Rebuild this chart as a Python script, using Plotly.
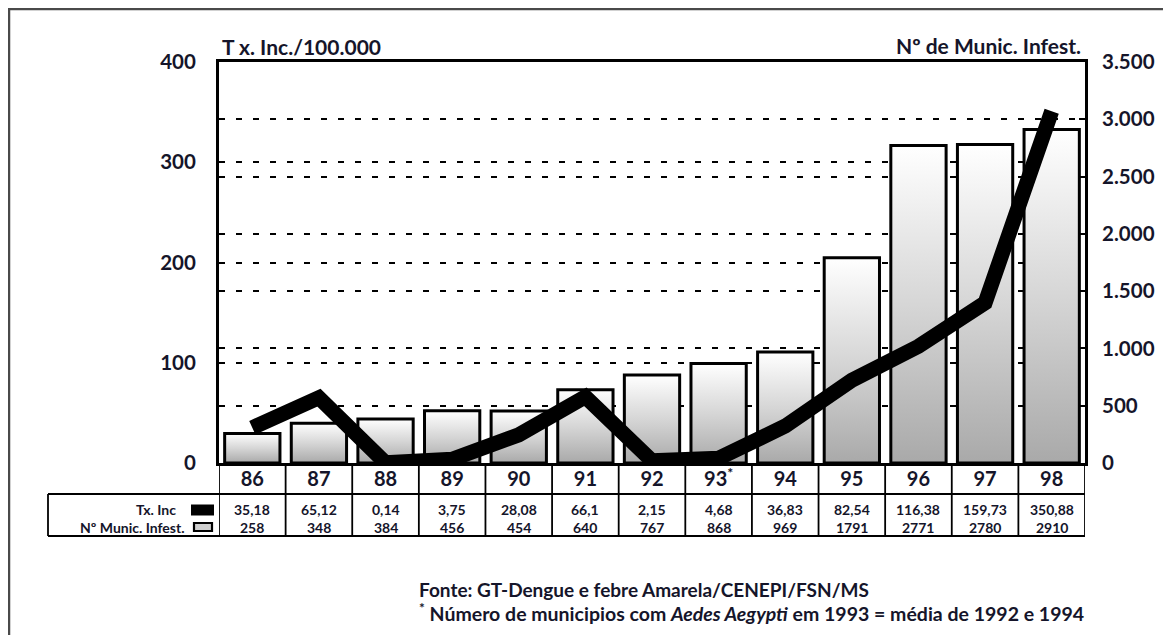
import plotly.graph_objects as go

# ---------------- data ----------------
years = ["86", "87", "88", "89", "90", "91", "92", "93", "94", "95", "96", "97", "98"]
year_labels = ["86", "87", "88", "89", "90", "91", "92", "93<sup>*</sup>", "94", "95", "96", "97", "98"]
tx_inc = [35.18, 65.12, 0.14, 3.75, 28.08, 66.1, 2.15, 4.68, 36.83, 82.54, 116.38, 159.73, 350.88]
munic = [258, 348, 384, 456, 454, 640, 767, 868, 969, 1791, 2771, 2780, 2910]
left_ticks = [0, 100, 200, 300, 400]
right_ticks = [0, 500, 1000, 1500, 2000, 2500, 3000, 3500]

left_title = "T x. Inc./100.000"
right_title = "Nº de Munic. Infest."
legend_tx = "Tx. Inc"
legend_munic = "Nº Munic. Infest."
source_line = "Fonte: GT-Dengue e febre Amarela/CENEPI/FSN/MS"
note_line = "<sup>*</sup> Número de municipios com <i>Aedes Aegypti</i> em 1993 = média de 1992 e 1994"

# ---------------- geometry (page pixels -> paper) ----------------
OFF = 8                      # default body margin of the html page
W_FIG, H_FIG = 1163, 627
L, R, T, B = 211, 86, 54, 172
PW, PH = W_FIG - L - R, H_FIG - T - B


def px(X):
    return (X - OFF - L) / PW


def py(Y):
    return (T + PH - (Y - OFF)) / PH


TXT = "#15152a"
FONT = "Lato"
idx = list(range(len(years)))
BW = 0.83

fig = go.Figure()

# gradient fills of the bars (one trace per bar so each has its own gradient)
for i, v in enumerate(munic):
    fig.add_trace(go.Scatter(
        x=[i - BW / 2, i + BW / 2, i + BW / 2, i - BW / 2, i - BW / 2],
        y=[0, 0, v, v, 0],
        mode="lines", line=dict(width=0, color="rgba(0,0,0,0)"),
        fill="toself",
        fillgradient=dict(type="vertical",
                          colorscale=[[0, "#a9a9a9"], [0.5, "#d6d6d6"], [1, "#ffffff"]]),
        hoverinfo="skip", showlegend=False, yaxis="y"))

# bar outlines
fig.add_trace(go.Bar(
    x=idx, y=munic, width=BW, yaxis="y2",
    marker=dict(color="rgba(0,0,0,0)", line=dict(color="black", width=3)),
    name=legend_munic, showlegend=False))

# incidence line
fig.add_trace(go.Scatter(
    x=idx, y=tx_inc, yaxis="y3", mode="lines",
    line=dict(color="black", width=15),
    name=legend_tx, showlegend=False))

grid = dict(showgrid=True, gridcolor="black", griddash="6px,11px", gridwidth=1.5)

fig.update_layout(
    width=W_FIG, height=H_FIG,
    margin=dict(l=L, r=R, t=T, b=B),
    paper_bgcolor="white", plot_bgcolor="white",
    separators=",.",
    font=dict(family=FONT, color=TXT, size=16),
    showlegend=False,
    xaxis=dict(range=[-0.5, len(years) - 0.5], tickvals=idx, ticktext=year_labels,
               showline=True, linewidth=3, linecolor="black", mirror=True,
               showgrid=False, zeroline=False, ticks="",
               tickfont=dict(size=20, family=FONT, color=TXT, weight="bold"),
               ticklabelstandoff=-4),
    yaxis=dict(range=[0, 3500], side="right", tickvals=right_ticks, tickformat=",d",
               showline=True, linewidth=3, linecolor="black",
               ticks="inside", ticklen=6, tickwidth=1.5, tickcolor="black",
               zeroline=False, ticklabelstandoff=10,
               tickfont=dict(size=20.5, family=FONT, color=TXT, weight="bold"), **grid),
    yaxis2=dict(range=[0, 3500], overlaying="y", visible=False),
    yaxis3=dict(range=[0, 400], overlaying="y", side="left", tickvals=left_ticks,
                showline=True, linewidth=3, linecolor="black", zeroline=False,
                ticks="", ticklabelstandoff=16,
                tickfont=dict(size=20.5, family=FONT, color=TXT, weight="bold"), **grid),
)

shapes = []
line_k = dict(color="black", width=1.8)
Y_ROW = py(494)
Y_BOT = py(536)
X_LEFT = px(48)
# vertical dividers of the category table
for i in range(len(years) + 1):
    shapes.append(dict(type="line", xref="x", yref="paper", x0=i - 0.5, x1=i - 0.5,
                       y0=0, y1=Y_BOT, line=line_k))
shapes.append(dict(type="line", xref="paper", yref="paper", x0=X_LEFT, x1=1,
                   y0=Y_ROW, y1=Y_ROW, line=line_k))
shapes.append(dict(type="line", xref="paper", yref="paper", x0=X_LEFT, x1=1,
                   y0=Y_BOT, y1=Y_BOT, line=line_k))
shapes.append(dict(type="line", xref="paper", yref="paper", x0=X_LEFT, x1=X_LEFT,
                   y0=Y_ROW, y1=Y_BOT, line=line_k))
# legend symbols
shapes.append(dict(type="line", xref="paper", yref="paper", x0=px(191), x1=px(214),
                   y0=py(510), y1=py(510), line=dict(color="black", width=11)))
shapes.append(dict(type="rect", xref="paper", yref="paper", x0=px(194), x1=px(212),
                   y0=py(523), y1=py(531), fillcolor="#cfcfcf",
                   line=dict(color="black", width=2.2)))
# outer frame
shapes.append(dict(type="rect", xref="paper", yref="paper", x0=px(9), x1=px(1190),
                   y0=py(9), y1=py(660), line=dict(color="#4a4a4a", width=2.5),
                   fillcolor="rgba(0,0,0,0)", layer="below"))

annotations = []
for i, v in enumerate(tx_inc):
    annotations.append(dict(x=i, y=py(509), xref="x", yref="paper", showarrow=False,
                            text="<b>" + f"{v:g}".replace(".", ",") + "</b>",
                            font=dict(size=14, family=FONT, color=TXT),
                            xanchor="center", yanchor="middle"))
for i, v in enumerate(munic):
    annotations.append(dict(x=i, y=py(527), xref="x", yref="paper", showarrow=False,
                            text="<b>" + str(v) + "</b>",
                            font=dict(size=14, family=FONT, color=TXT),
                            xanchor="center", yanchor="middle"))
annotations += [
    dict(x=px(178), y=py(510), xref="paper", yref="paper", showarrow=False,
         text="<b>" + legend_tx + "</b>", font=dict(size=14, family=FONT, color=TXT),
         xanchor="right", yanchor="middle"),
    dict(x=px(187), y=py(527), xref="paper", yref="paper", showarrow=False,
         text="<b>" + legend_munic + "</b>", font=dict(size=14, family=FONT, color=TXT),
         xanchor="right", yanchor="middle"),
    dict(x=px(220), y=py(46), xref="paper", yref="paper", showarrow=False,
         text="<b>" + left_title + "</b>", font=dict(size=21, family=FONT, color=TXT),
         xanchor="left", yanchor="middle"),
    dict(x=px(1083), y=py(45), xref="paper", yref="paper", showarrow=False,
         text="<b>" + right_title + "</b>", font=dict(size=21, family=FONT, color=TXT),
         xanchor="right", yanchor="middle"),
    dict(x=px(417), y=py(589), xref="paper", yref="paper", showarrow=False,
         text="<b>" + source_line + "</b>", font=dict(size=19, family=FONT, color=TXT),
         xanchor="left", yanchor="middle"),
    dict(x=px(417), y=py(612), xref="paper", yref="paper", showarrow=False,
         text="<b>" + note_line + "</b>", font=dict(size=19.5, family=FONT, color=TXT),
         xanchor="left", yanchor="middle"),
]

fig.update_layout(shapes=shapes, annotations=annotations)
fig.write_html("out.html")
